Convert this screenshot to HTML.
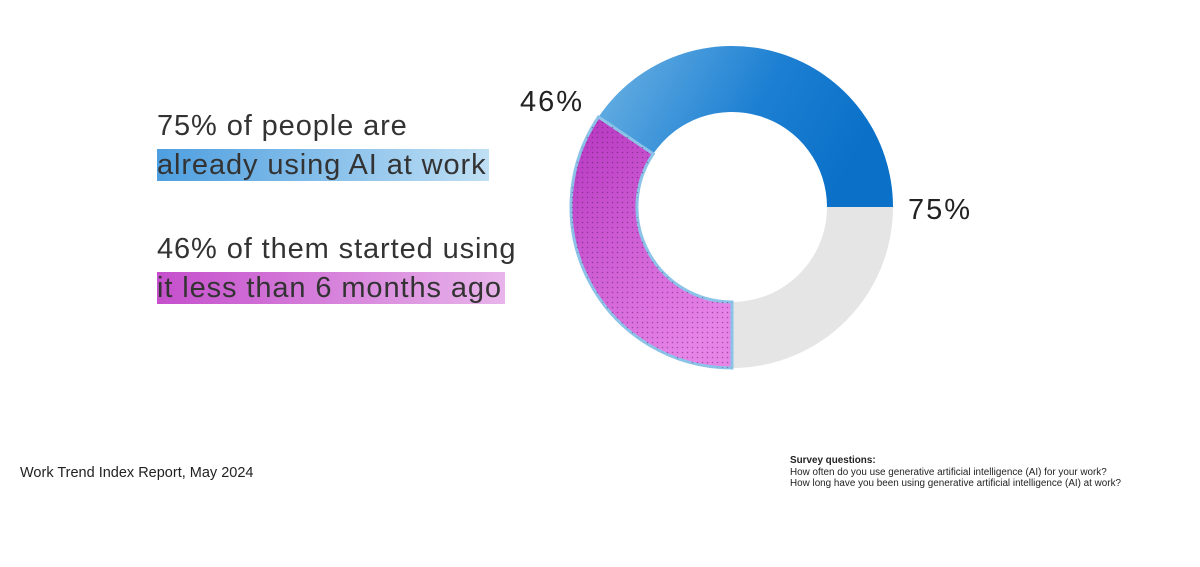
<!DOCTYPE html>
<html><head><meta charset="utf-8"><style>
html,body{margin:0;padding:0;background:#fff;width:1200px;height:567px;overflow:hidden;font-family:"Liberation Sans",sans-serif;}
.t{position:absolute;left:157px;font-size:29px;color:#333;white-space:nowrap;line-height:36px;letter-spacing:0.9px;}
.hb{background:linear-gradient(90deg,#4e9fe0,#bfdff4);padding-right:3px;}
.hm{background:linear-gradient(90deg,#c54fcc,#e8b4ea);padding-right:3px;}
</style></head><body>
<div class="t" style="top:108px">75% of people are</div>
<div class="t" style="top:147px"><span class="hb">already using AI at work</span></div>
<div class="t" style="top:231px">46% of them started using</div>
<div class="t" style="top:270px"><span class="hm">it less than 6 months ago</span></div>
<svg width="1200" height="567" style="position:absolute;left:0;top:0">
<defs>
<linearGradient id="bg" x1="0" y1="0" x2="1" y2="0.3"><stop offset="0" stop-color="#6fb4e4"/><stop offset="0.6" stop-color="#1c7fd2"/><stop offset="1" stop-color="#0a70c8"/></linearGradient>
<linearGradient id="mg" x1="0" y1="0" x2="0.6" y2="1"><stop offset="0" stop-color="#b535c0"/><stop offset="1" stop-color="#e784e8"/></linearGradient>
<pattern id="dots" width="5" height="5" patternUnits="userSpaceOnUse"><circle cx="2.5" cy="2.5" r="0.8" fill="#5a1a60" opacity="0.5"/></pattern>
</defs>
<path d="M893 207 A161 161 0 0 1 732 368 L732 302 A95 95 0 0 0 827 207 Z" fill="#e5e5e5"/>
<path d="M598.5 117 A161 161 0 0 1 893 207 L827 207 A95 95 0 0 0 653.2 153.9 Z" fill="url(#bg)"/>
<path d="M732 368 A161 161 0 0 1 598.5 117 L653.2 153.9 A95 95 0 0 0 732 302 Z" fill="url(#mg)" stroke="#8cc3e8" stroke-width="3"/>
<path d="M732 368 A161 161 0 0 1 598.5 117 L653.2 153.9 A95 95 0 0 0 732 302 Z" fill="url(#dots)"/>
<text x="520" y="111" font-size="29" fill="#222" letter-spacing="2" font-family="Liberation Sans, sans-serif">46%</text>
<text x="908" y="219" font-size="29" fill="#222" letter-spacing="2" font-family="Liberation Sans, sans-serif">75%</text>
</svg>
<div style="position:absolute;left:20px;top:465px;font-size:14.5px;color:#222">Work Trend Index Report, May 2024</div>
<div style="position:absolute;left:790px;top:455px;font-size:9.9px;color:#222;line-height:11.5px">
<b>Survey questions:</b><br>How often do you use generative artificial intelligence (AI) for your work?<br>How long have you been using generative artificial intelligence (AI) at work?</div>
</body></html>
